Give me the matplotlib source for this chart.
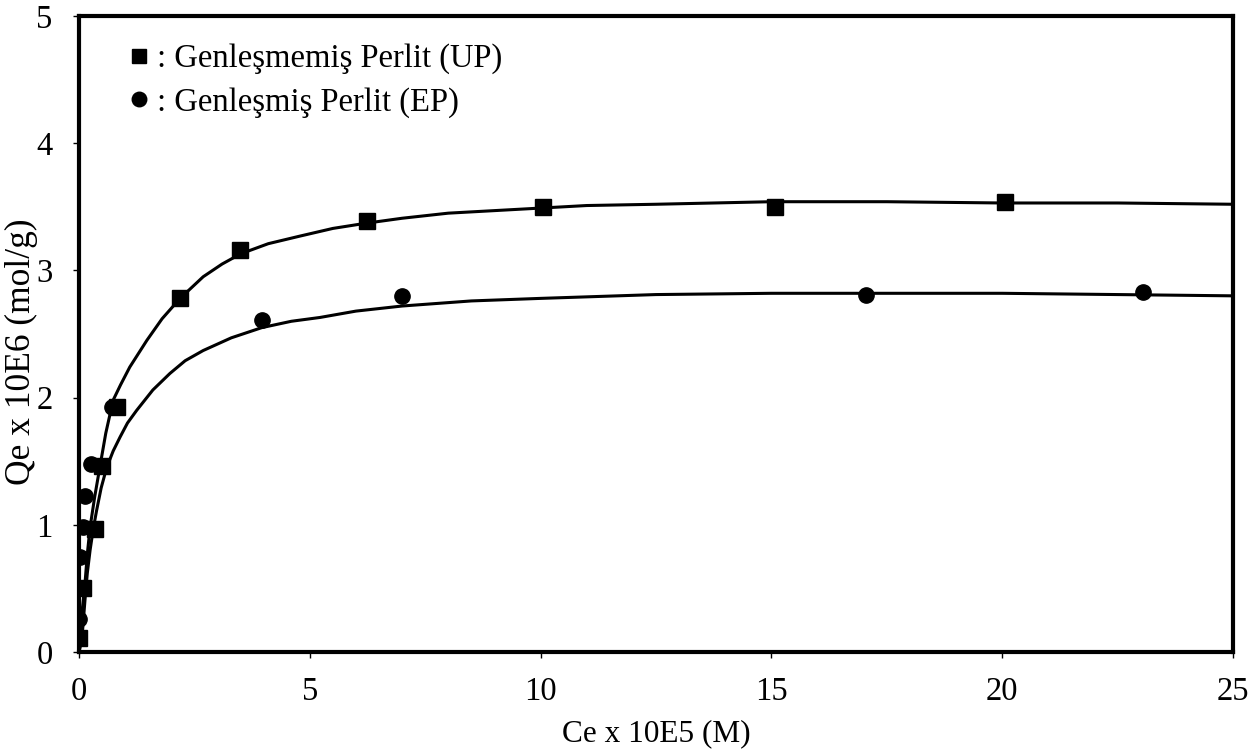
import matplotlib
matplotlib.use("Agg")
import matplotlib.pyplot as plt

# Data points
up_x = [0.0, 0.09, 0.35, 0.49, 0.82, 2.19, 3.49, 6.24, 10.05, 15.08, 20.06]
up_y = [0.11, 0.50, 0.97, 1.46, 1.93, 2.78, 3.16, 3.39, 3.50, 3.50, 3.54]

ep_x = [0.0, 0.02, 0.08, 0.13, 0.25, 0.71, 3.96, 7.0, 17.06, 23.06]
ep_y = [0.26, 0.75, 0.98, 1.23, 1.48, 1.93, 2.61, 2.80, 2.81, 2.83]

# Fitted curves
up_fit_x = [0.0, 0.02, 0.07, 0.13, 0.18, 0.24, 0.34, 0.45, 0.58, 0.74, 0.9, 1.1, 1.47,
            1.8, 2.19, 2.69, 3.1, 3.5, 4.1, 4.79, 5.5, 6.2, 7.0, 8.0, 9.0, 10.0,
            11.0, 12.5, 15.0, 17.5, 20.0, 22.5, 25.0]
up_fit_y = [0.0, 0.09, 0.33, 0.54, 0.77, 0.98, 1.22, 1.45, 1.72, 1.98, 2.10, 2.24, 2.45,
            2.62, 2.78, 2.95, 3.05, 3.13, 3.21, 3.27, 3.33, 3.37, 3.41, 3.45, 3.47, 3.49,
            3.51, 3.52, 3.54, 3.54, 3.53, 3.53, 3.52]

ep_fit_x = [0.0, 0.06, 0.13, 0.18, 0.24, 0.31, 0.38, 0.48, 0.60, 0.74, 0.89, 1.05, 1.25,
            1.6, 1.97, 2.3, 2.69, 3.3, 3.96, 4.6, 5.22, 6.0, 7.0, 8.5, 10.0, 12.5,
            15.0, 17.5, 20.0, 22.5, 25.0]
ep_fit_y = [0.0, 0.09, 0.41, 0.62, 0.80, 0.97, 1.11, 1.29, 1.45, 1.58, 1.69, 1.80, 1.90,
            2.06, 2.19, 2.29, 2.37, 2.47, 2.55, 2.60, 2.63, 2.68, 2.72, 2.76, 2.78, 2.81,
            2.82, 2.82, 2.82, 2.81, 2.80]

x_ticks = [0, 5, 10, 15, 20, 25]
y_ticks = [0, 1, 2, 3, 4, 5]

legend_labels = [": Genleşmemiş Perlit (UP)", ": Genleşmiş Perlit (EP)"]
x_label = "Ce x 10E5 (M)"
y_label = "Qe x 10E6 (mol/g)"

plt.rcParams['font.family'] = ['Liberation Serif', 'DejaVu Serif']
FS = 23.5

fig = plt.figure(figsize=(12.6, 7.51), dpi=100)
ax = fig.add_axes([79/1260, 1 - 652/751, (1233-79)/1260, (652-16)/751])

ax.plot(up_fit_x, up_fit_y, color='black', lw=2.2, solid_joinstyle='round', zorder=2)
ax.plot(ep_fit_x, ep_fit_y, color='black', lw=2.2, solid_joinstyle='round', zorder=2)

h1, = ax.plot(up_x, up_y, linestyle='none', marker='s', markersize=11,
              color='black', zorder=3, label=legend_labels[0])
h2, = ax.plot(ep_x, ep_y, linestyle='none', marker='o', markersize=11,
              color='black', zorder=3, label=legend_labels[1])

ax.set_xlim(0, 25)
ax.set_ylim(0, 5)
ax.set_xticks(x_ticks)
ax.set_yticks(y_ticks)
ax.tick_params(axis='both', direction='out', length=4, width=1, labelsize=FS)
ax.tick_params(axis='x', pad=14)
ax.tick_params(axis='y', pad=15)
for s in ax.spines.values():
    s.set_linewidth(3)

ax.set_xlabel(x_label, fontsize=22.5)
ax.xaxis.set_label_coords(0.5, -(719 - 652) / 636)
ax.set_ylabel(y_label, fontsize=25.5)
ax.yaxis.set_label_coords((38 - 79) / 1154, (652 - 352) / 636)

leg = ax.legend(handles=[h1, h2], loc='upper left', bbox_to_anchor=(0.0325, 0.977),
                frameon=False, fontsize=FS, handlelength=0.6, handletextpad=0.25,
                labelspacing=0.38, markerscale=0.95, borderaxespad=0)

fig.savefig("out.png", dpi=100)
